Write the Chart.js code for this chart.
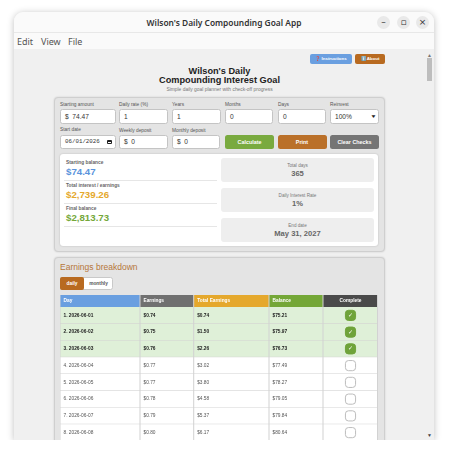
<!DOCTYPE html>
<html>
<head>
<meta charset="utf-8">
<title>Wilson's Daily Compounding Goal App</title>
<script src="https://cdn.jsdelivr.net/npm/chart.js@4"></script>
<style>
html, body { margin: 0; padding: 0; background: #fff; width: 450px; height: 453px; overflow: hidden; font-family: "Liberation Sans", Arial, sans-serif; }
.abs, .abs > * { position: absolute; box-sizing: border-box; white-space: nowrap; }
#ventana { left: 14px; top: 12px; width: 420px; height: 428px; background: #f0f0f0; border-radius: 9px 9px 0 0; box-shadow: 0 1px 7px rgba(0,0,0,.25); overflow: hidden; }
#contenido { left: 0; top: 0; width: 450px; height: 453px; position: absolute; }
.barra { left: 14px; width: 420px; background: #fafafa; }
.titulo-app { left: 14px; width: 420px; top: 16px; text-align: center; font: 600 8.4px/13px "Noto Sans", sans-serif; color: #333; }
.menu { top: 35px; font: 9px/13px "Noto Sans", sans-serif; color: #555; }
.ctl { width: 13px; height: 13px; top: 16px; border-radius: 50%; background: #e9e9e9; color: #333; font: 9px/13px "DejaVu Sans", sans-serif; text-align: center; }
.btn { color: #fff; border-radius: 2px; text-align: center; font-weight: bold; }
.panel { background: #e4e4e4; border: 1px solid #cfcfcf; border-radius: 4px; box-shadow: 0 0 2px rgba(0,0,0,.15); }
.etq { font-size: 4.8px; line-height: 6px; color: #555; }
.campo { height: 15px; background: #fff; border: 1px solid #c4c4c4; border-radius: 2.5px; font-size: 6.6px; line-height: 13px; padding-left: 4px; color: #333; }
.accion { top: 135px; height: 14px; width: 49px; border-radius: 2.5px; font-size: 5.4px; line-height: 14px; font-weight: bold; color: #fff; text-align: center; opacity: .95; }
.res-etq { left: 66px; font-size: 4.8px; line-height: 6px; font-weight: bold; color: #666; }
.res-val { left: 66px; font-size: 9.7px; line-height: 11px; font-weight: bold; }
.sep { left: 64px; width: 153px; height: 1px; background: #e6e6e6; }
.caja { left: 221px; width: 153px; height: 24px; background: #eeeeee; border-radius: 3px; text-align: center; color: #666; }
.caja span { display: block; font-size: 4.6px; line-height: 6px; margin-top: 5px; color: #777; }
.caja b { display: block; font-size: 7.6px; line-height: 9px; }
</style>
</head>
<body>
<div id="contenido" class="abs">
  <div id="ventana"></div>
  <div class="barra" style="top:12px;height:21px;border-radius:9px 9px 0 0;border-bottom:1px solid #e8e8e8"></div>
  <div class="barra" style="top:33px;height:16px"></div>
  <div class="titulo-app">Wilson's Daily Compounding Goal App</div>
  <div class="ctl" style="left:377px">–</div>
  <div class="ctl" style="left:397px">▫</div>
  <div class="ctl" style="left:416px">×</div>
  <div class="menu" style="left:17px">Edit</div>
  <div class="menu" style="left:41px">View</div>
  <div class="menu" style="left:68px">File</div>

  <div style="left:427px;top:58px;width:5px;height:23px;background:#bdbdbd"></div>
  <div style="left:427px;top:52px;font-size:5px;color:#777">▲</div>
  <div style="left:427px;top:432px;font-size:5px;color:#444">▼</div>

  <div class="btn" style="left:310px;top:54px;width:42px;height:10px;background:#6a9fe0;font-size:4.4px;line-height:10px">❓ Instructions</div>
  <div class="btn" style="left:355px;top:54px;width:30px;height:10px;background:#b86a20;font-size:4.4px;line-height:10px">ℹ️ About</div>

  <div style="left:54px;width:331px;top:66.5px;text-align:center;font-size:9.2px;line-height:9px;font-weight:bold;color:#222;white-space:normal">Wilson's Daily<br>Compounding Interest Goal</div>
  <div style="left:54px;width:331px;top:87px;text-align:center;font-size:4.9px;line-height:6px;color:#777">Simple daily goal planner with check-off progress</div>

  <div class="panel" style="left:54px;top:97px;width:331px;height:155px"></div>
  <div class="etq" style="left:60px;top:102px">Starting amount</div>
  <div class="etq" style="left:119px;top:102px">Daily rate (%)</div>
  <div class="etq" style="left:172px;top:102px">Years</div>
  <div class="etq" style="left:225px;top:102px">Months</div>
  <div class="etq" style="left:278px;top:102px">Days</div>
  <div class="etq" style="left:330px;top:102px">Reinvest</div>
  <div class="campo" style="left:60px;top:109px;width:56px">$&nbsp; 74.47</div>
  <div class="campo" style="left:119px;top:109px;width:49px">1</div>
  <div class="campo" style="left:172px;top:109px;width:49px">1</div>
  <div class="campo" style="left:225px;top:109px;width:48px">0</div>
  <div class="campo" style="left:278px;top:109px;width:48px">0</div>
  <div class="campo" style="left:330px;top:109px;width:49px">100%</div>
  <div style="left:371px;top:113px;font-size:5px;color:#222;transform:scaleX(1.3)">▼</div>

  <div class="etq" style="left:60px;top:127px">Start date</div>
  <div class="etq" style="left:119px;top:127.5px">Weekly deposit</div>
  <div class="etq" style="left:172px;top:127.5px">Monthly deposit</div>
  <div class="campo" style="left:60px;top:135px;width:56px;height:14px;font-size:5.8px;line-height:12px;font-family:'Liberation Mono',monospace">06/01/2026</div>
  <div style="left:107px;top:140px;width:5px;height:4px;border:1px solid #222;border-top-width:2px;border-radius:1px"></div>
  <div class="campo" style="left:119px;top:135px;width:49px;height:14px;line-height:12px">$&nbsp; 0</div>
  <div class="campo" style="left:172px;top:135px;width:48px;height:14px;line-height:12px">$&nbsp; 0</div>
  <div class="accion" style="left:225px;background:#74a737">Calculate</div>
  <div class="accion" style="left:277.5px;background:#b86a20">Print</div>
  <div class="accion" style="left:330px;background:#707070">Clear Checks</div>

  <div style="left:60px;top:154px;width:318px;height:92px;background:#fff;border-radius:3px;box-shadow:0 0 2px rgba(0,0,0,.2)"></div>
  <div class="res-etq" style="top:160px">Starting balance</div>
  <div class="res-val" style="top:166px;color:#5b94dc">$74.47</div>
  <div class="sep" style="top:180px"></div>
  <div class="res-etq" style="top:183px">Total interest / earnings</div>
  <div class="res-val" style="top:189px;color:#e5a82c">$2,739.26</div>
  <div class="sep" style="top:203px"></div>
  <div class="res-etq" style="top:206px">Final balance</div>
  <div class="res-val" style="top:212px;color:#75a83a">$2,813.73</div>
  <div class="sep" style="top:226px"></div>
  <div class="caja" style="top:158px"><span>Total days</span><b>365</b></div>
  <div class="caja" style="top:188px"><span>Daily Interest Rate</span><b>1%</b></div>
  <div class="caja" style="top:218px"><span>End date</span><b>May 31, 2027</b></div>

  <div class="panel" style="left:54px;top:257px;width:331px;height:200px"></div>
  <div style="left:60px;top:262px;font-size:8.5px;line-height:10px;color:#b5763a">Earnings breakdown</div>
  <div style="left:60px;top:277px;width:53px;height:13px;background:#fff;border:1px solid #c9c9c9;border-radius:2.5px"></div>
  <div class="btn" style="left:60px;top:277px;width:24px;height:13px;background:#b86a20;font-size:4.8px;line-height:13px">daily</div>
  <div style="left:84px;top:277px;width:29px;text-align:center;font-size:4.8px;line-height:13px;font-weight:bold;color:#555">monthly</div>

  <canvas id="tabla" width="318" height="146" style="left:60px;top:295px;width:318px;height:146px"></canvas>
  <div style="left:0;top:440px;width:450px;height:13px;background:#fff"></div>
</div>

<script>
const columnas = ['Day', 'Earnings', 'Total Earnings', 'Balance', 'Complete'];
const dias = ['1. 2026-06-01', '2. 2026-06-02', '3. 2026-06-03', '4. 2026-06-04',
              '5. 2026-06-05', '6. 2026-06-06', '7. 2026-06-07', '8. 2026-06-08'];
const ganancias = ['$0.74', '$0.75', '$0.76', '$0.77', '$0.77', '$0.78', '$0.79', '$0.80'];
const acumulado = ['$0.74', '$1.50', '$2.26', '$3.02', '$3.80', '$4.58', '$5.37', '$6.17'];
const saldos = ['$75.21', '$75.97', '$76.73', '$77.49', '$78.27', '$79.05', '$79.84', '$80.64'];
const completados = [true, true, true, false, false, false, false, false];

// ancho de cada columna, la tabla no reparte por igual
const anchos = [80, 53.7, 75.3, 54, 55];
const coloresCabecera = ['#6a9fe0', '#707070', '#e5a82c', '#74a737', '#4a4a4a'];

class EscalaColumnas extends Chart.CategoryScale {
    bordeIzq(i) {
        return this.left + anchos.slice(0, i).reduce((a, b) => a + b, 0);
    }
    getPixelForValue(value) {
        const i = typeof value === 'number' ? value : this.parse(value);
        return this.bordeIzq(i) + anchos[i] / 2;
    }
    getPixelForTick(index) {
        return this.getPixelForValue(index);
    }
}
EscalaColumnas.id = 'columnas';
EscalaColumnas.defaults = {};
Chart.register(EscalaColumnas);

const filas = {
    id: 'filas',
    beforeDatasetsDraw(chart) {
        const { ctx, chartArea: area, scales: { x, y } } = chart;
        const banda = area.height / dias.length;
        ctx.save();
        dias.forEach((d, i) => {
            const py = y.getPixelForValue(d);
            ctx.fillStyle = completados[i] ? '#dff0d8' : '#ffffff';
            ctx.fillRect(area.left, py - banda / 2, area.width, banda);
            ctx.fillStyle = '#d2d2d2';
            ctx.fillRect(area.left, py + banda / 2 - 0.5, area.width, 1);
        });
        columnas.forEach((c, i) => {
            ctx.fillStyle = coloresCabecera[i];
            ctx.fillRect(x.bordeIzq(i), 0, anchos[i], area.top);
            ctx.fillStyle = '#d2d2d2';
            ctx.fillRect(x.bordeIzq(i) - 0.5, 0, 1, area.bottom);
        });
        ctx.fillRect(area.right - 1, 0, 1, area.bottom);
        ctx.restore();
    },
    afterDatasetsDraw(chart) {
        const { ctx, chartArea: area, scales: { x, y } } = chart;
        ctx.save();
        ctx.textBaseline = 'middle';

        // cabecera
        ctx.font = 'bold 4.8px "Liberation Sans"';
        ctx.fillStyle = '#ffffff';
        columnas.forEach((c, i) => {
            const ultima = i === columnas.length - 1;
            ctx.textAlign = ultima ? 'center' : 'left';
            ctx.fillText(c, ultima ? x.getPixelForValue(c) : x.bordeIzq(i) + 3.5, area.top / 2);
        });

        // celdas
        [dias, ganancias, acumulado, saldos].forEach((col, c) => {
            ctx.textAlign = 'left';
            col.forEach((txt, i) => {
                ctx.font = (completados[i] ? 'bold ' : '') + '4.8px "Liberation Sans"';
                ctx.fillStyle = completados[i] ? '#222222' : '#555555';
                ctx.fillText(txt, x.bordeIzq(c) + 3.5, y.getPixelForValue(dias[i]));
            });
        });

        // marca de completado
        ctx.textAlign = 'center';
        ctx.font = '6px "DejaVu Sans"';
        ctx.fillStyle = '#ffffff';
        completados.forEach((ok, i) => {
            if (ok) ctx.fillText('✓', x.getPixelForValue('Complete'), y.getPixelForValue(dias[i]));
        });
        ctx.restore();
    }
};

new Chart(document.getElementById('tabla'), {
    type: 'scatter',
    data: {
        datasets: [{
            label: 'Complete',
            data: dias.map(d => ({ x: 'Complete', y: d })),
            pointStyle: 'rectRounded',
            pointRadius: 5.9,
            pointBackgroundColor: completados.map(ok => ok ? '#6fa33a' : '#ffffff'),
            pointBorderColor: completados.map(ok => ok ? '#6fa33a' : '#bdbdbd'),
            pointBorderWidth: 1
        }]
    },
    plugins: [filas],
    options: {
        responsive: false,
        animation: false,
        layout: { padding: { top: 12 }, autoPadding: false },
        plugins: { legend: { display: false }, tooltip: { enabled: false } },
        scales: {
            x: { type: 'columnas', labels: columnas, display: false },
            y: { type: 'category', labels: dias, offset: true, display: false }
        }
    }
});
</script>
</body>
</html>
